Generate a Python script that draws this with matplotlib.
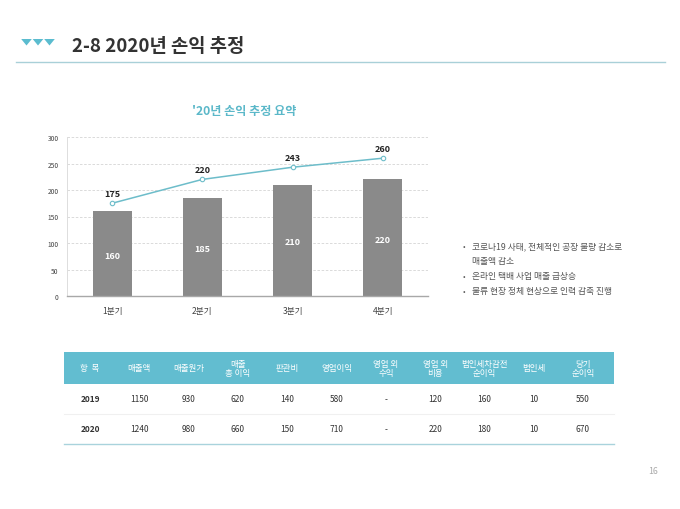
import matplotlib
matplotlib.use("Agg")
import matplotlib.pyplot as plt
import matplotlib.patches as patches
import numpy as np

plt.rcParams['font.family'] = ['Noto Sans CJK KR', 'DejaVu Sans']

W, H = 680, 510

# chart data
quarters = ['1분기', '2분기', '3분기', '4분기']
bar_values = [160, 185, 210, 220]
line_values = [175, 220, 243, 260]
y_ticks = [0, 50, 100, 150, 200, 250, 300]

# notes
notes = [
    ['코로나19 사태, 전체적인 공장 물량 감소로', '매출액 감소'],
    ['온라인 택배 사업 매출 급상승'],
    ['물류 현장 정체 현상으로 인력 감축 진행'],
]

# table data
table_header = ['항  목', '매출액', '매출원가', '매출\n총 이익', '판관비', '영업이익',
                '영업 외\n수익', '영업 외\n비용', '법인세차감전\n순이익', '법인세', '당기\n순이익']
row_2019 = ['2019', '1150', '930', '620', '140', '580', '-', '120', '160', '10', '550']
row_2020 = ['2020', '1240', '980', '660', '150', '710', '-', '220', '180', '10', '670']

TEAL = '#62bdd0'
BAR_GRAY = '#8a8a8a'
LINE_TEAL = '#6dbdca'


def fx(x):
    return x / W


def fy(y):
    return 1 - y / H


fig = plt.figure(figsize=(W / 100, H / 100), dpi=100)

# page header: triangles, title, rule
for i in range(3):
    cx = 26.5 + i * 11.5
    tri = patches.Polygon([(fx(cx - 5.3), fy(40)), (fx(cx + 5.3), fy(40)), (fx(cx), fy(46.5))],
                          closed=True, transform=fig.transFigure, color='#5bbccf', lw=0)
    fig.patches.append(tri)
fig.text(fx(72), fy(46), '2-8 2020년 손익 추정', fontsize=13.5, fontweight='bold',
         color='#333333', ha='left', va='center')
fig.lines.append(plt.Line2D([fx(16), fx(665)], [fy(63), fy(63)], transform=fig.transFigure,
                            color='#a9d0d8', lw=1.0))

# chart title
fig.text(fx(244), fy(111), "'20년 손익 추정 요약", fontsize=8.7, fontweight='bold',
         color='#5bb8c9', ha='center', va='center')

# chart axes
ax = fig.add_axes([fx(67), fy(297), (428 - 67) / W, (297 - 138) / H])
x = np.arange(len(quarters))
ax.bar(x, bar_values, width=0.43, color=BAR_GRAY, zorder=2)
ax.plot(x, line_values, color=LINE_TEAL, lw=1.1, marker='o', markersize=3.2,
        markerfacecolor='white', markeredgecolor=LINE_TEAL, markeredgewidth=0.8, zorder=3)

for xi, v in zip(x, bar_values):
    ax.text(xi, v / 2 - 3, str(v), ha='center', va='center', color='white',
            fontsize=6.5, fontweight='bold', zorder=4)
for xi, v in zip(x, line_values):
    ax.text(xi, v + 18, str(v), ha='center', va='center', color='#222222',
            fontsize=6.5, fontweight='bold', zorder=4)

ax.set_xlim(-0.5, len(quarters) - 0.5)
ax.set_ylim(0, 300)
ax.set_yticks(y_ticks)
ax.set_xticks(x)
ax.set_xticklabels(quarters)
ax.tick_params(axis='y', labelsize=4.8, colors='#444444', length=0, pad=6)
ax.tick_params(axis='x', labelsize=6.2, colors='#444444', length=0, pad=7)
ax.yaxis.grid(True, color='#d4d4d4', linestyle=(0, (3, 2)), lw=0.6, zorder=0)
ax.set_axisbelow(True)
for side in ['top', 'right']:
    ax.spines[side].set_visible(False)
ax.spines['left'].set_color('#dddddd')
ax.spines['left'].set_linewidth(0.7)
ax.spines['bottom'].set_color('#a8a8a8')
ax.spines['bottom'].set_linewidth(1.0)
ax.patch.set_alpha(0)

# notes on the right
ny = 247
for note in notes:
    fig.text(fx(463), fy(ny), '•', fontsize=5.5, color='#555555', ha='left', va='center')
    for line in note:
        fig.text(fx(472), fy(ny), line, fontsize=6.3, color='#555555', ha='left', va='center')
        ny += 15

# table
tbl_left, tbl_right = 64, 614
col_x = [90 + 49.3 * i for i in range(len(table_header))]
band = patches.Rectangle((fx(tbl_left), fy(385)), (tbl_right - tbl_left) / W, 32 / H,
                         transform=fig.transFigure, color=TEAL, lw=0)
fig.patches.append(band)
for cx, txt in zip(col_x, table_header):
    fig.text(fx(cx), fy(369), txt, fontsize=6.1, color='white', ha='center', va='center',
             linespacing=1.1)

for ry, row in [(400, row_2019), (430, row_2020)]:
    for j, (cx, txt) in enumerate(zip(col_x, row)):
        fig.text(fx(cx), fy(ry), txt, fontsize=6, color='#333333', ha='center', va='center',
                 fontweight='bold' if j == 0 else 'normal')

fig.lines.append(plt.Line2D([fx(tbl_left), fx(tbl_right)], [fy(415), fy(415)],
                            transform=fig.transFigure, color='#f0f0f0', lw=0.8))
fig.lines.append(plt.Line2D([fx(tbl_left), fx(tbl_right)], [fy(445), fy(445)],
                            transform=fig.transFigure, color='#a9d3dc', lw=1.0))

# page number
fig.text(fx(653), fy(472), '16', fontsize=6.3, color='#aaaaaa', ha='center', va='center')

fig.savefig('out.png', dpi=100)
